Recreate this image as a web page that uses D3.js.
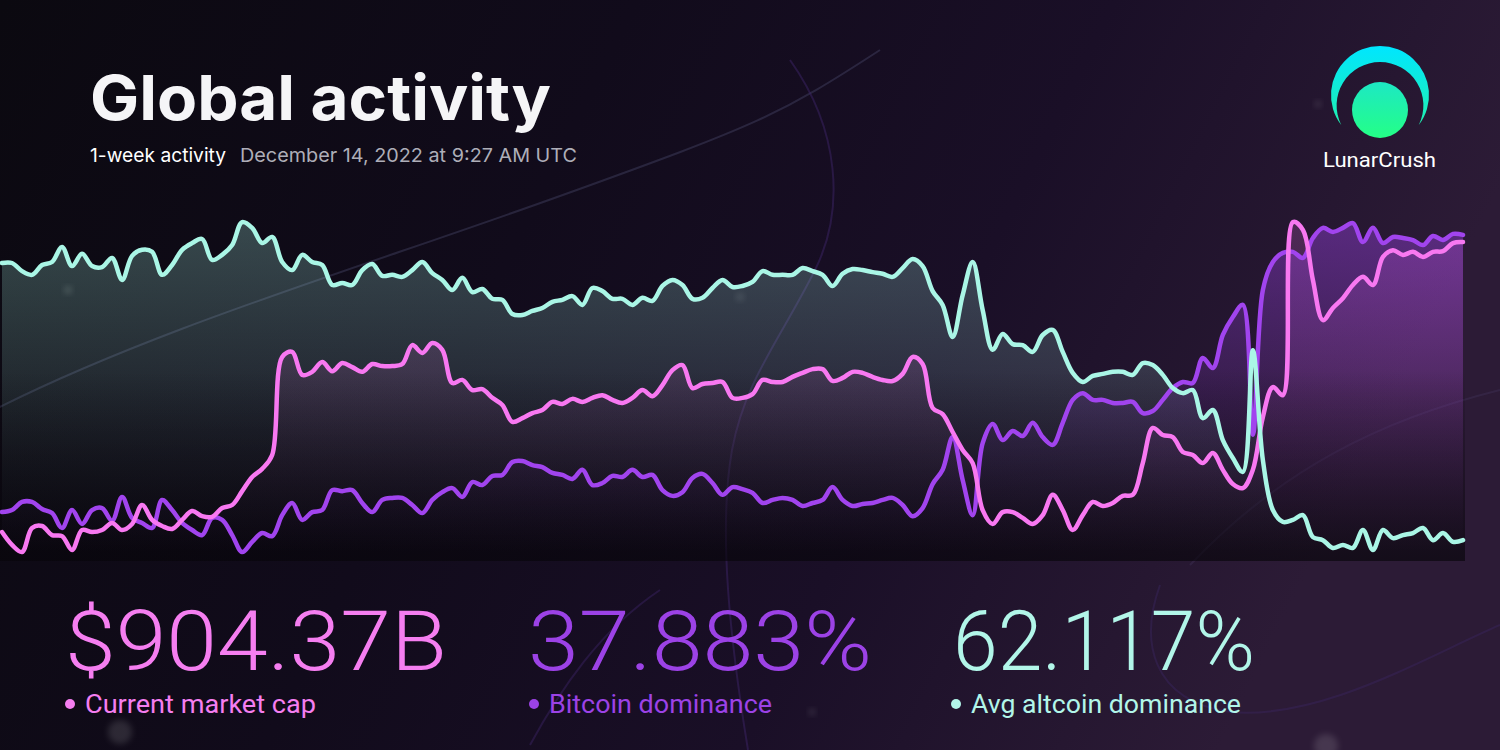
<!DOCTYPE html>
<html>
<head>
<meta charset="utf-8">
<script src="https://cdn.jsdelivr.net/npm/d3@7"></script>
<style>
  html, body { margin: 0; padding: 0; background: #0b0910; }
  svg { display: block; }
</style>
</head>
<body>
<svg id="chart" width="1500" height="750"></svg>
<script>
// ---------------- DATA (normalized 0-100 level within the week) ----------------
const seriesNames = ["Current market cap", "Bitcoin dominance", "Avg altcoin dominance"];
const statValues = ["$904.37B", "37.883%", "62.117%"];
const titleText = "Global activity";
const subtitleLead = "1-week activity";
const subtitleDate = "December 14, 2022 at 9:27 AM UTC";
const brandName = "LunarCrush";

const marketCap = [6.2,2.4,0.3,7.4,8.0,5.3,5.0,0.9,6.8,6.2,
6.8,8.9,6.8,8.6,14.2,9.8,8.0,7.1,9.8,12.4,
10.9,10.7,13.3,14.2,18.3,22.5,24.9,29.0,58.0,59.5,
52.7,53.6,56.5,53.8,56.2,55.0,53.6,55.9,55.3,55.3,
55.9,61.5,59.2,62.1,60.1,50.3,51.2,48.2,48.5,45.9,
43.8,38.8,39.9,41.4,42.3,44.7,44.1,45.6,44.7,45.9,
46.7,45.3,44.4,45.9,48.2,46.4,49.7,54.1,55.6,48.8,
50.0,50.3,50.6,45.9,45.9,47.0,51.2,50.6,50.6,52.1,
53.3,54.4,54.4,50.9,51.8,53.6,53.3,52.1,51.2,50.9,
53.0,58.0,55.9,42.9,41.1,35.8,30.5,26.6,12.7,8.6,
12.1,12.1,10.4,8.6,11.2,17.2,12.7,6.8,11.2,15.1,
13.9,14.8,16.9,17.2,26.6,37.0,34.9,34.3,29.9,29.0,
26.6,29.6,24.6,20.4,19.2,24.6,40.2,49.1,46.7,97.9,
95.6,80.8,68.9,72.5,75.4,79.3,81.7,79.3,87.6,89.6,
88.2,89.1,87.6,89.1,89.3,91.7,92.0];

const btcDominance = [12.1,12.7,15.1,15.1,13.0,11.8,7.4,12.7,8.6,12.7,
13.3,9.5,16.6,10.4,8.9,7.4,15.7,12.7,8.9,6.8,
5.3,10.4,9.8,5.3,0.3,3.3,5.9,5.0,11.2,14.8,
9.8,12.1,12.7,18.6,18.3,18.6,14.8,12.1,15.7,16.3,
16.3,14.2,11.8,15.7,18.0,19.2,16.6,21.0,20.1,22.8,
23.1,26.9,27.2,26.0,25.4,23.7,23.1,21.9,24.6,20.1,
20.7,22.8,22.5,24.6,22.5,23.1,18.6,16.9,18.0,22.2,
23.4,20.7,17.2,19.5,18.9,17.8,14.8,15.7,16.3,15.7,
13.9,14.8,15.7,19.5,15.7,13.9,14.5,14.8,15.7,16.3,
14.2,10.9,13.3,20.4,24.6,34.3,21.6,11.2,32.5,38.2,
33.4,36.1,34.6,38.5,34.3,32.0,38.5,45.3,47.3,45.3,
45.3,44.4,44.4,44.7,41.4,42.0,45.3,48.8,50.6,50.3,
57.7,54.7,64.5,69.8,73.4,35.0,77.8,86.1,88.8,89.1,
87.3,93.2,96.2,95.0,96.2,97.6,92.0,96.2,91.7,93.5,
93.2,92.6,91.1,93.8,92.6,94.4,94.1];

const altDominance = [85.8,85.8,83.4,82.3,85.2,86.1,90.5,84.9,88.5,84.9,
84.6,87.3,80.8,87.9,89.7,89.1,82.3,85.2,89.7,91.7,
92.9,86.7,88.2,91.1,97.9,96.2,91.7,93.5,86.1,83.7,
88.2,86.1,85.2,79.3,79.9,79.3,83.7,85.5,82.0,82.3,
81.7,83.7,86.1,82.8,80.8,77.8,81.4,77.2,78.1,75.2,
74.9,70.7,70.4,71.6,72.5,74.3,74.9,76.0,73.4,78.4,
77.5,75.2,75.2,73.4,75.5,74.6,79.0,80.8,79.3,75.2,
75.5,78.4,80.8,78.7,79.0,80.2,83.4,82.3,82.3,82.3,
84.3,83.4,82.3,79.0,82.6,84.0,83.7,83.1,82.6,81.7,
84.3,87.0,84.9,77.5,73.4,63.9,76.3,86.1,71.9,60.1,
64.8,61.8,61.5,59.5,64.5,66.0,59.5,53.3,50.6,52.4,
53.0,53.6,53.6,52.7,56.2,55.6,52.7,48.8,47.3,48.2,
39.9,42.3,33.4,28.1,24.0,60.0,27.5,12.7,9.2,9.8,
11.2,4.7,3.8,1.5,2.4,1.5,6.8,0.9,6.8,4.4,
5.3,5.9,7.4,3.8,5.9,3.3,3.8];

// ---------------- STYLE ----------------
const colors = { cap: "#f878f1", btc: "#a144ee", alt: "#aaf6e6" };
const textColors = { cap: "#f57ef0", btc: "#9c42e6", alt: "#b2f6e9" };

const svg = d3.select("#chart");
const defs = svg.append("defs");

// background gradient
const bg = defs.append("linearGradient").attr("id", "bg").attr("x1", 0).attr("y1", 0).attr("x2", 1).attr("y2", 0.25);
[["0%", "#0b0910"], ["40%", "#110b1b"], ["70%", "#1a0f27"], ["100%", "#2c1b36"]]
  .forEach(([o, c]) => bg.append("stop").attr("offset", o).attr("stop-color", c));
svg.append("rect").attr("width", 1500).attr("height", 750).attr("fill", "url(#bg)");

const glow = defs.append("filter").attr("id", "blur").attr("x", "-50%").attr("y", "-50%").attr("width", "200%").attr("height", "200%");
glow.append("feGaussianBlur").attr("stdDeviation", 3);

// faint decorative curves
const deco = svg.append("g").attr("fill", "none").attr("stroke-width", 2);
deco.append("path").attr("d", "M-10,412 C150,330 360,268 560,196 S780,115 880,50").attr("stroke", "#4a4a6e").attr("opacity", 0.4);
deco.append("path").attr("d", "M790,60 C840,130 845,210 815,270 C780,340 745,380 732,450 C718,530 730,640 748,750").attr("stroke", "#3b2466").attr("opacity", 0.5);
deco.append("path").attr("d", "M1160,585 C1140,640 1150,700 1230,712 C1320,720 1420,660 1500,625").attr("stroke", "#3a2660").attr("opacity", 0.45);
deco.append("path").attr("d", "M1190,565 C1280,470 1380,420 1500,390").attr("stroke", "#4a3a66").attr("opacity", 0.3);
deco.append("path").attr("d", "M530,745 C560,690 600,630 660,590").attr("stroke", "#3b2466").attr("opacity", 0.45);

// soft dots
[[68, 290, 3.5, 0.18], [740, 297, 3.5, 0.14], [120, 732, 12, 0.12], [1326, 746, 12, 0.12], [1318, 104, 3, 0.15], [812, 712, 3, 0.15]]
  .forEach(([cx, cy, r, o]) => svg.append("circle").attr("cx", cx).attr("cy", cy).attr("r", r)
    .attr("fill", "#ffffff").attr("opacity", o).attr("filter", "url(#blur)"));

// ---------------- CHART ----------------
const n = marketCap.length;
const x = d3.scaleLinear().domain([0, n - 1]).range([2, 1463]);
const y = d3.scaleLinear().domain([0, 100]).range([553, 215]);
const curve = d3.curveCatmullRom.alpha(0.5);

function areaGrad(id, color, stops) {
  const g = defs.append("linearGradient").attr("id", id).attr("gradientUnits", "userSpaceOnUse")
    .attr("x1", 0).attr("y1", y(100)).attr("x2", 0).attr("y2", y(0));
  stops.forEach(([o, a]) => g.append("stop").attr("offset", o).attr("stop-color", color).attr("stop-opacity", a));
}
areaGrad("gAlt", colors.alt, [["0%", 0.27], ["100%", 0.0]]);
areaGrad("gCap", colors.cap, [["0%", 0.2], ["100%", 0.0]]);
areaGrad("gBtc", colors.btc, [["0%", 0.42], ["55%", 0.14], ["100%", 0.0]]);

// dark shade at the foot of the chart
const shade = defs.append("linearGradient").attr("id", "shade").attr("x1", 0).attr("y1", 0).attr("x2", 0).attr("y2", 1);
[["0%", 0], ["45%", 0], ["100%", 0.65]].forEach(([o, a]) =>
  shade.append("stop").attr("offset", o).attr("stop-color", "#07050a").attr("stop-opacity", a));

const series = [
  { key: "alt", values: altDominance, grad: "gAlt" },
  { key: "cap", values: marketCap, grad: "gCap" },
  { key: "btc", values: btcDominance, grad: "gBtc" }
];

const area = d3.area().x((d, i) => x(i)).y0(y(0)).y1(d => y(d)).curve(curve);
const line = d3.line().x((d, i) => x(i)).y(d => y(d)).curve(curve);

const plot = svg.append("g");
series.forEach(s => {
  plot.append("path").attr("d", area(s.values)).attr("fill", `url(#${s.grad})`);
});
plot.append("rect").attr("x", x(0) - 2).attr("y", y(100)).attr("width", x(n - 1) - x(0) + 4)
  .attr("height", y(0) - y(100) + 8).attr("fill", "url(#shade)");
["btc", "cap", "alt"].forEach(k => {
  const s = series.find(d => d.key === k);
  plot.append("path").attr("d", line(s.values)).attr("fill", "none")
    .attr("stroke", colors[k]).attr("stroke-width", 4.5)
    .attr("stroke-linejoin", "round").attr("stroke-linecap", "round");
});

// ---------------- TEXT ----------------
function fit(sel, w) {
  sel.attr("textLength", w).attr("lengthAdjust", "spacingAndGlyphs");
  return sel;
}

fit(svg.append("text").attr("x", 90).attr("y", 120).text(titleText)
  .attr("font-family", "Inter, 'Noto Sans', sans-serif").attr("font-weight", 700)
  .attr("font-size", 62).attr("fill", "#f5f5f7"), 461);

fit(svg.append("text").attr("x", 90).attr("y", 162).text(subtitleLead)
  .attr("font-family", "Inter, 'Noto Sans', sans-serif").attr("font-weight", 400)
  .attr("font-size", 19).attr("fill", "#ffffff"), 136);
fit(svg.append("text").attr("x", 240).attr("y", 162).text(subtitleDate)
  .attr("font-family", "Inter, 'Noto Sans', sans-serif").attr("font-weight", 400)
  .attr("font-size", 19).attr("fill", "#aeaeb8"), 337);

// logo
const lg1 = defs.append("linearGradient").attr("id", "logoA").attr("x1", 0).attr("y1", 0).attr("x2", 0).attr("y2", 1);
lg1.append("stop").attr("offset", "0%").attr("stop-color", "#00e6ff");
lg1.append("stop").attr("offset", "100%").attr("stop-color", "#1ff0b0");
const lg2 = defs.append("linearGradient").attr("id", "logoB").attr("x1", 0).attr("y1", 0).attr("x2", 0).attr("y2", 1);
lg2.append("stop").attr("offset", "0%").attr("stop-color", "#1de8c4");
lg2.append("stop").attr("offset", "100%").attr("stop-color", "#24ff86");
const cx = 1380, R = 49, cyO = 95, r2 = 43.4, tipY = 125;
const tipDx = Math.sqrt(R * R - (tipY - cyO) * (tipY - cyO));
svg.append("path")
  .attr("d", `M${cx - tipDx},${tipY} A${R},${R} 0 1 1 ${cx + tipDx},${tipY} A${r2},${r2} 0 1 0 ${cx - tipDx},${tipY} Z`)
  .attr("fill", "url(#logoA)");
svg.append("circle").attr("cx", cx).attr("cy", 110).attr("r", 28).attr("fill", "url(#logoB)");
fit(svg.append("text").attr("x", 1323).attr("y", 167).text(brandName)
  .attr("font-family", "Roboto, 'Noto Sans', sans-serif").attr("font-weight", 400)
  .attr("font-size", 20).attr("fill", "#ffffff"), 113);

// stats
const statX = [65, 528, 953];
const statW = [382, 344, 302];
const labelX = [85, 549, 971];
const labelW = [231, 223, 270];
const keys = ["cap", "btc", "alt"];
keys.forEach((k, i) => {
  fit(svg.append("text").attr("x", statX[i]).attr("y", 670).text(statValues[i])
    .attr("font-family", "Roboto, 'Noto Sans', sans-serif").attr("font-weight", 300)
    .attr("font-size", 84).attr("fill", textColors[k]), statW[i]);
  svg.append("circle").attr("cx", labelX[i] - 15).attr("cy", 704).attr("r", 5).attr("fill", textColors[k]);
  fit(svg.append("text").attr("x", labelX[i]).attr("y", 713).text(seriesNames[i])
    .attr("font-family", "Roboto, 'Noto Sans', sans-serif").attr("font-weight", 400)
    .attr("font-size", 26).attr("fill", textColors[k]), labelW[i]);
});
</script>
</body>
</html>
